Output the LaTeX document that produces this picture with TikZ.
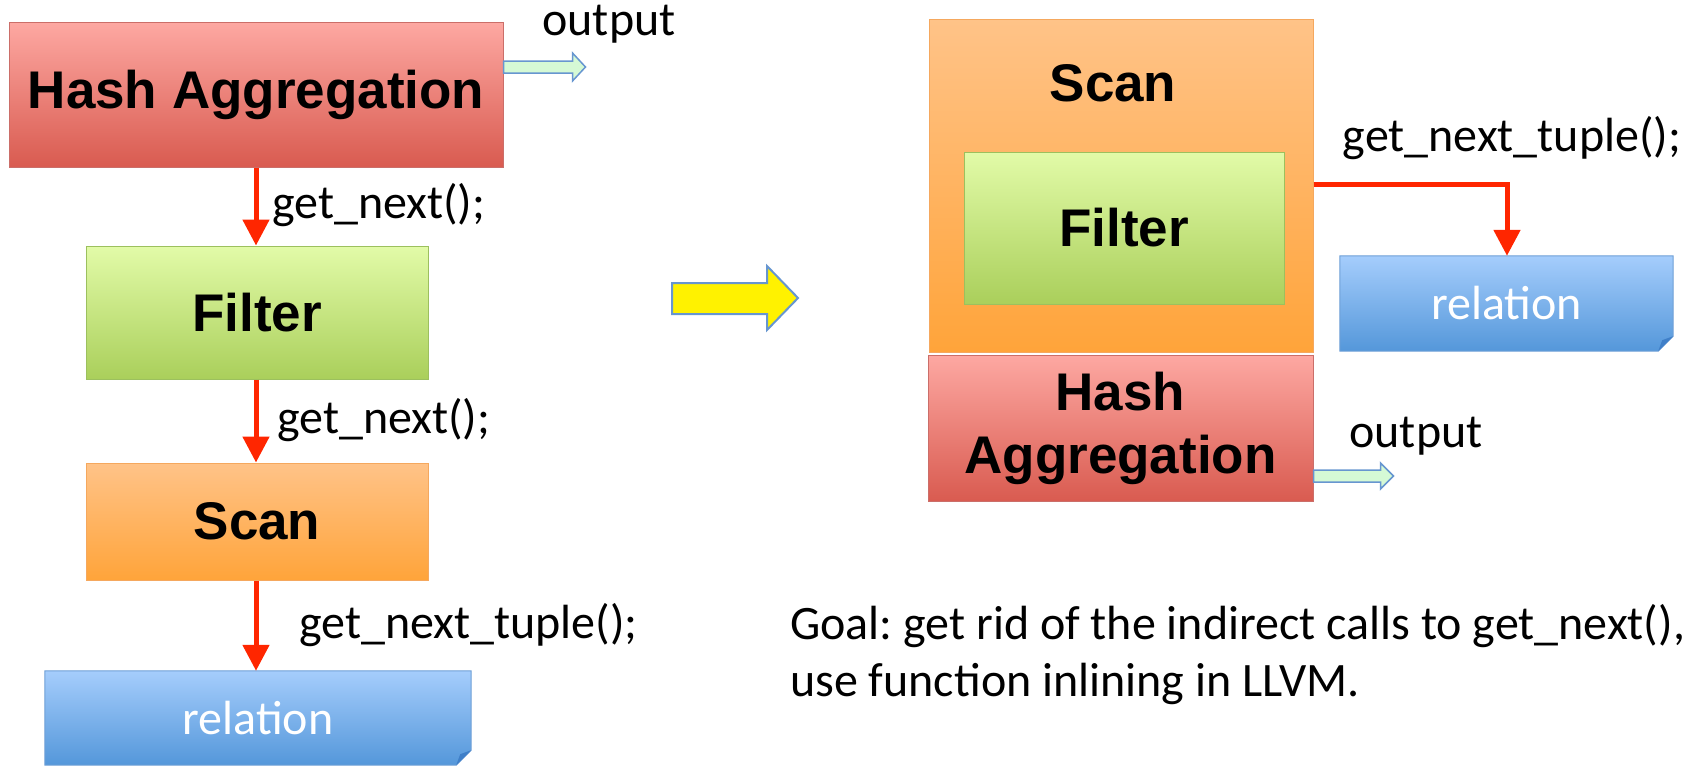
\documentclass[tikz,border=0pt]{standalone}
\usepackage{fontspec}
\setmainfont{Carlito}
\newfontfamily\hv{Liberation Sans}
\usetikzlibrary{arrows.meta,backgrounds}
\frenchspacing
\definecolor{haTop}{HTML}{FDA8A2}
\definecolor{haBot}{HTML}{D95B50}
\definecolor{haBd}{HTML}{CB6E69}
\definecolor{fiTop}{HTML}{E2FBA8}
\definecolor{fiBot}{HTML}{AACF5B}
\definecolor{fiBd}{HTML}{9CC05E}
\definecolor{scTop}{HTML}{FFC388}
\definecolor{scBot}{HTML}{FFA43A}
\definecolor{scBd}{HTML}{F5A85E}
\definecolor{reTop}{HTML}{A5CDFC}
\definecolor{reBot}{HTML}{5497DA}
\definecolor{reBd}{HTML}{6E9FD6}
\definecolor{reFold}{HTML}{3F7FC8}
\definecolor{callred}{HTML}{FF2600}
\definecolor{outFill}{HTML}{D5F9D5}
\definecolor{arrBd}{HTML}{6796D0}
\begin{document}
\begin{tikzpicture}[x=1pt,y=-1pt,
  box/.style={rectangle, inner sep=0pt, line width=1pt, align=center,
    font=\hv\bfseries\fontsize{53}{63}\selectfont},
  habox/.style={box, draw=haBd, top color=haTop, bottom color=haBot},
  fibox/.style={box, draw=fiBd, top color=fiTop, bottom color=fiBot},
  scbox/.style={box, draw=scBd, top color=scTop, bottom color=scBot},
  relnode/.style={rectangle, inner sep=0pt, text=white, font=\fontsize{48}{58}\selectfont},
  relshape/.style={draw=reBd, line width=1pt, top color=reTop, bottom color=reBot},
  call/.style={draw=callred, line width=5pt, -{Triangle[width=26pt,length=26pt]}},
  lbl/.style={inner sep=0pt, font=\fontsize{48}{58}\selectfont},
  blockarrow/.style={draw=arrBd, line width=1.5pt, fill=outFill, line join=miter},
  bigarrow/.style={draw=arrBd, line width=2pt, fill=yellow, line join=miter}
]
\useasboundingbox (0,0) rectangle (1690,766);

% ---------- left column ----------
\node[habox, minimum width=494pt, minimum height=145pt] (haL) at (256,94.5) {Hash Aggregation};
\node[fibox, minimum width=342pt, minimum height=133pt] (fiL) at (257,312.5) {Filter};
\node[scbox, minimum width=342pt, minimum height=117pt] (scL) at (257,521.5) {Scan};
\node[relnode, minimum width=426pt, minimum height=94pt] (reL) at (258,718) {relation};
\begin{pgfonlayer}{background}
\path[relshape] (reL.north west) -- (reL.north east) -- ([yshift=15pt]reL.south east)
  -- ([xshift=-15pt]reL.south east) -- (reL.south west) -- cycle;
\fill[reFold] ([yshift=15pt]reL.south east) -- ([xshift=-15pt]reL.south east)
  -- ([xshift=-11pt,yshift=11pt]reL.south east) -- cycle;
\end{pgfonlayer}

\draw[call] (haL.south -| 256,0) -- (fiL.north -| 256,0);
\draw[call] (fiL.south -| 256,0) -- (scL.north -| 256,0);
\draw[call] (scL.south -| 256,0) -- (reL.north -| 256,0);

\node[lbl, anchor=west] (l1) at (272,205) {get\_next();};
\node[lbl, anchor=west] (l2) at (277,420) {get\_next();};
\node[lbl, anchor=west] (l3) at (299,625) {get\_next\_tuple();};

\coordinate (oL) at (haL.east |- 0,67);
\path[blockarrow] (oL) ++(0,-6) -- ++(69,0) -- ++(0,-8) -- ++(13,14) -- ++(-13,14)
  -- ++(0,-8) -- ++(-69,0) -- cycle;
\node[lbl] (outL) at (609,24) {output};

% ---------- transform arrow ----------
\path[bigarrow] (672,283) -- (767,283) -- (767,266) -- (798,298) -- (767,330)
  -- (767,314) -- (672,314) -- cycle;

% ---------- right column ----------
\node[scbox, minimum width=384pt, minimum height=333pt] (scR) at (1121,185.5) {};
\node[box] (scRt) at (1113,83) {Scan};
\node[fibox, minimum width=320pt, minimum height=152pt] (fiR) at (1124,228) {Filter};
\node[habox, minimum width=385pt, minimum height=146pt] (haR) at (1120.5,428) {Hash\\Aggregation};
\node[relnode, minimum width=333pt, minimum height=95pt] (reR) at (1506.5,303.5) {relation};
\begin{pgfonlayer}{background}
\path[relshape] (reR.north west) -- (reR.north east) -- ([yshift=15pt]reR.south east)
  -- ([xshift=-15pt]reR.south east) -- (reR.south west) -- cycle;
\fill[reFold] ([yshift=15pt]reR.south east) -- ([xshift=-15pt]reR.south east)
  -- ([xshift=-11pt,yshift=11pt]reR.south east) -- cycle;
\end{pgfonlayer}

\draw[call, line join=miter] (scR.east |- 0,184) -| (reR.north -| 1507,0);
\node[lbl] (l4) at (1512,138) {get\_next\_tuple();};

\coordinate (oR) at (haR.east |- 0,476);
\path[blockarrow] (oR) ++(0,-6) -- ++(67,0) -- ++(0,-7) -- ++(13,13) -- ++(-13,13)
  -- ++(0,-7) -- ++(-67,0) -- cycle;
\node[lbl] (outR) at (1416,436) {output};

\node[lbl, anchor=west, align=left, font=\fontsize{48}{57}\selectfont] (goal) at (790,655)
  {Goal: get rid of the indirect calls to get\_next(),\\use function inlining in LLVM.};
\end{tikzpicture}
\end{document}
